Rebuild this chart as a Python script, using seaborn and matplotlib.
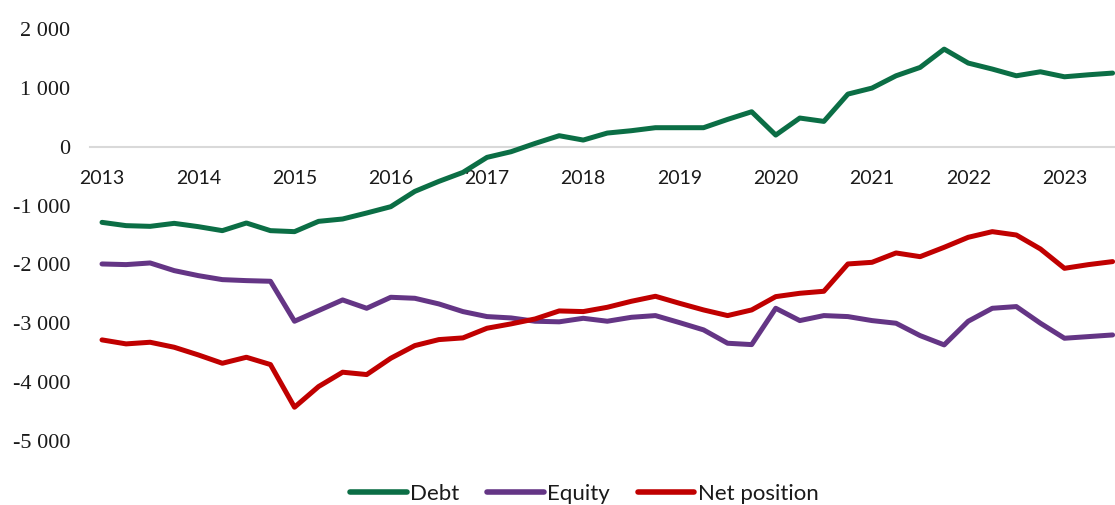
import numpy as np
import pandas as pd
import matplotlib
matplotlib.use("Agg")
import matplotlib.pyplot as plt
from matplotlib.ticker import FuncFormatter
import seaborn as sns

# Quarterly data, 2013Q1 - 2023Q3
quarters = pd.period_range("2013Q1", "2023Q3", freq="Q").astype(str).tolist()

debt = [-1285, -1341, -1353, -1302, -1358, -1426, -1296, -1426, -1443, -1268,
        -1228, -1126, -1019, -759, -589, -436, -181, -85, 56, 187,
        113, 232, 272, 323, 323, 323, 464, 594, 198, 487,
        430, 894, 996, 1205, 1347, 1658, 1421, 1319, 1205, 1273,
        1188, 1222, 1251]

equity = [-1992, -2003, -1975, -2105, -2190, -2258, -2275, -2286, -2965, -2784,
          -2603, -2745, -2558, -2575, -2671, -2801, -2886, -2909, -2965, -2975,
          -2915, -2965, -2898, -2869, -2988, -3112, -3339, -3362, -2745, -2954,
          -2869, -2886, -2954, -2999, -3209, -3367, -2965, -2745, -2716, -2999,
          -3254, -3226, -3198]

net_position = [-3282, -3350, -3322, -3407, -3537, -3679, -3577, -3701, -4426, -4075,
                -3831, -3871, -3594, -3379, -3277, -3248, -3084, -3010, -2926, -2790,
                -2801, -2728, -2626, -2541, -2660, -2773, -2869, -2773, -2547, -2490,
                -2456, -1992, -1964, -1805, -1868, -1709, -1539, -1443, -1500, -1737,
                -2066, -2003, -1952]

series_names = ["Debt", "Equity", "Net position"]
colors = ["#0b6e45", "#643585", "#c00000"]
year_labels = [str(y) for y in range(2013, 2024)]

df = pd.DataFrame({"quarter": np.arange(len(quarters)),
                   "Debt": debt, "Equity": equity, "Net position": net_position})
long_df = df.melt(id_vars="quarter", var_name="series", value_name="value")

sns.set_theme(style="white")
plt.rcParams["font.family"] = ["Lato", "DejaVu Sans"]

fig = plt.figure(figsize=(11.15, 5.05), dpi=100)
ax = fig.add_axes([0.0807, 0.1267, 0.9193, 0.8159])

sns.lineplot(data=long_df, x="quarter", y="value", hue="series",
             hue_order=series_names, palette=colors, linewidth=3.6,
             ax=ax, legend=False)

ax.set_xlim(-0.5, 42.1)
ax.set_ylim(-5000, 2000)
ax.set_yticks(np.arange(-5000, 2001, 1000))
ax.yaxis.set_major_formatter(FuncFormatter(lambda v, p: f"{int(v):,}".replace(",", " ")))
ax.set_xticks(np.arange(0, 41, 4))
ax.set_xticklabels(year_labels)
ax.set_xlabel("")
ax.set_ylabel("")

for s in ["top", "right", "left"]:
    ax.spines[s].set_visible(False)
ax.spines["bottom"].set_position(("data", 0))
ax.spines["bottom"].set_color("#d9d9d9")
ax.spines["bottom"].set_linewidth(1.5)
ax.spines["bottom"].set_zorder(0)

ax.tick_params(axis="y", length=0, pad=14)
ax.tick_params(axis="x", length=0, pad=17)
for lbl in ax.get_yticklabels():
    lbl.set_fontfamily("Liberation Serif")
    lbl.set_fontsize(16)
    lbl.set_color("#1a1a1a")
for lbl in ax.get_xticklabels():
    lbl.set_fontsize(14)
    lbl.set_color("#1a1a1a")

handles = [plt.Line2D([], [], color=c, linewidth=4, solid_capstyle="round") for c in colors]
fig.legend(handles, series_names, loc="center", bbox_to_anchor=(0.524, 0.022),
           ncol=3, frameon=False, fontsize=16, handlelength=2.55,
           handletextpad=0.15, columnspacing=1.25, labelcolor="#1a1a1a")

fig.savefig("out.png", dpi=100)
